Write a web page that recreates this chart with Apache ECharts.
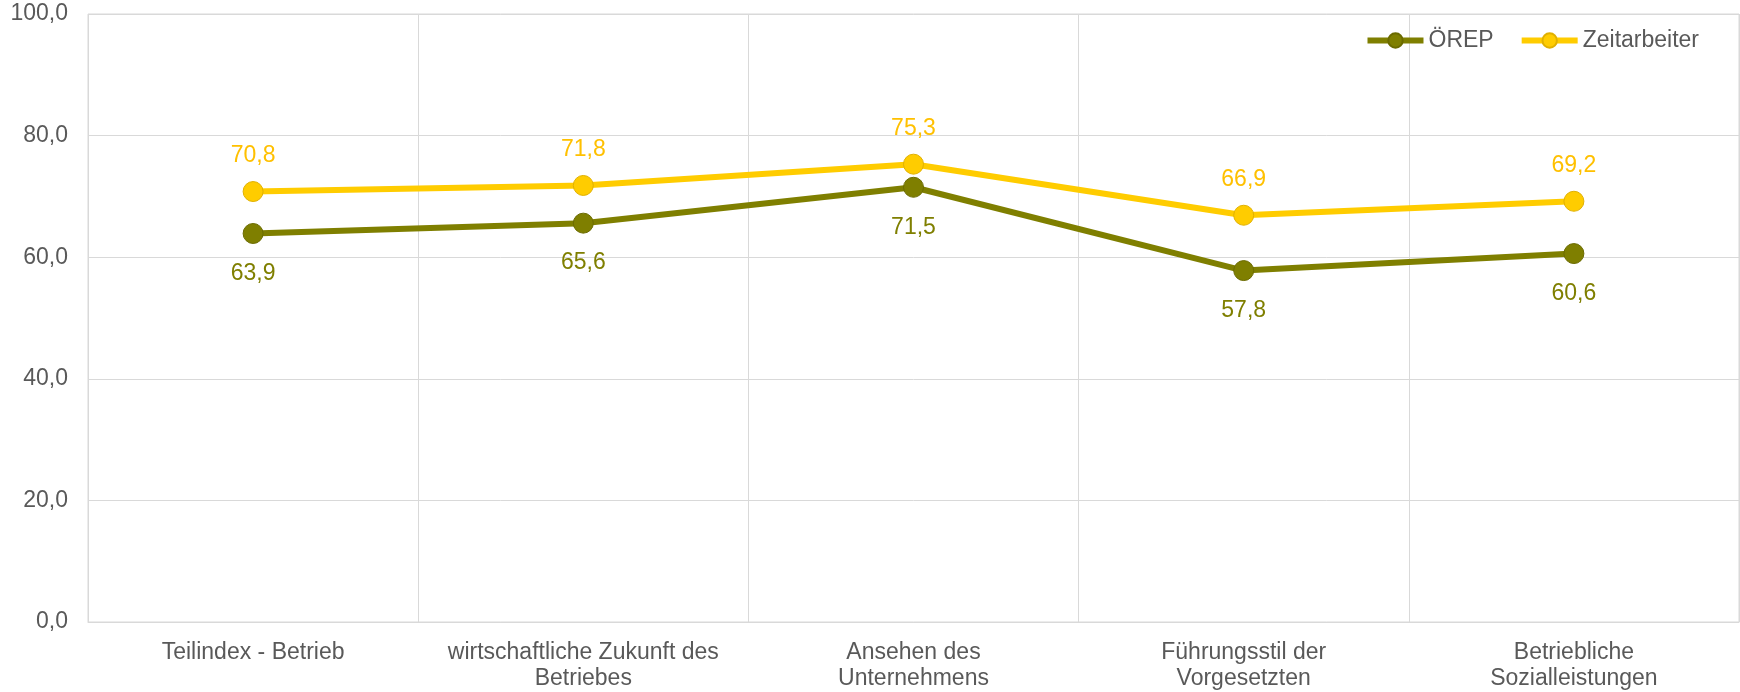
<!DOCTYPE html>
<html lang="de">
<head>
  <meta charset="UTF-8">
  <title>Teilindex Betrieb</title>
  <script src="https://cdn.jsdelivr.net/npm/echarts@6/dist/echarts.min.js"></script>
  <style>
    html, body { margin: 0; padding: 0; background: #fff; }
  </style>
</head>
<body>
<div id="main" style="width:1740px;height:692px;"></div>
<script>
  // Kategorien
  const categories = ['Teilindex - Betrieb', 'wirtschaftliche Zukunft des\nBetriebes', 'Ansehen des\nUnternehmens', 'Führungsstil der\nVorgesetzten', 'Betriebliche\nSozialleistungen'];
  // Werte
  const orep = [63.9, 65.6, 71.5, 57.8, 60.6];
  const zeitarbeiter = [70.8, 71.8, 75.3, 66.9, 69.2];
  const yTicks = [0, 20, 40, 60, 80, 100];

  const fmt = v => v.toFixed(1).replace('.', ',');
  const font = "'Liberation Sans', Arial, sans-serif";

  let myChart = echarts.init(document.getElementById('main'));
  let option = {
    animation: false,
    textStyle: { fontFamily: font },
    legend: {
      right: 36,
      top: 24,
      itemWidth: 56,
      itemHeight: 18,
      itemGap: 25,
      lineStyle: { width: 6 },
      textStyle: { fontSize: 23, color: '#595959', fontFamily: font },
      data: ['ÖREP', 'Zeitarbeiter']
    },
    grid: {
      left: 88, right: 1, top: 14, bottom: 69,
      show: true, borderColor: '#d9d9d9', borderWidth: 1
    },
    xAxis: {
      type: 'category',
      data: categories,
      boundaryGap: true,
      axisLine: { lineStyle: { color: '#d9d9d9' } },
      axisTick: { show: false },
      splitLine: { show: true, lineStyle: { color: '#d9d9d9', width: 1 } },
      axisLabel: { color: '#595959', fontSize: 23, lineHeight: 26, margin: 18, interval: 0, fontFamily: font }
    },
    yAxis: {
      type: 'value',
      min: yTicks[0],
      max: yTicks[yTicks.length - 1],
      interval: 20,
      axisLine: { show: false },
      axisTick: { show: false },
      splitLine: { lineStyle: { color: '#d9d9d9', width: 1 } },
      axisLabel: { color: '#595959', fontSize: 23, margin: 20, padding: [4, 0, 0, 0], formatter: v => fmt(v), fontFamily: font }
    },
    series: [
      {
        name: 'ÖREP',
        type: 'line',
        data: orep,
        symbol: 'circle',
        symbolSize: 20,
        lineStyle: { color: '#7f7f00', width: 6 },
        itemStyle: { color: '#7f7f00', borderColor: '#6b6b00', borderWidth: 1 },
        label: {
          show: true, position: 'bottom', distance: 18,
          color: '#7f7f00', fontSize: 23, fontFamily: font,
          formatter: p => fmt(p.value)
        },
        z: 2
      },
      {
        name: 'Zeitarbeiter',
        type: 'line',
        data: zeitarbeiter,
        symbol: 'circle',
        symbolSize: 20,
        lineStyle: { color: '#ffcc00', width: 6 },
        itemStyle: { color: '#ffcc00', borderColor: '#e0b000', borderWidth: 1 },
        label: {
          show: true, position: 'top', distance: 14,
          color: '#ffc000', fontSize: 23, fontFamily: font,
          formatter: p => fmt(p.value)
        },
        z: 3
      }
    ]
  };
  myChart.setOption(option);
</script>
</body>
</html>
